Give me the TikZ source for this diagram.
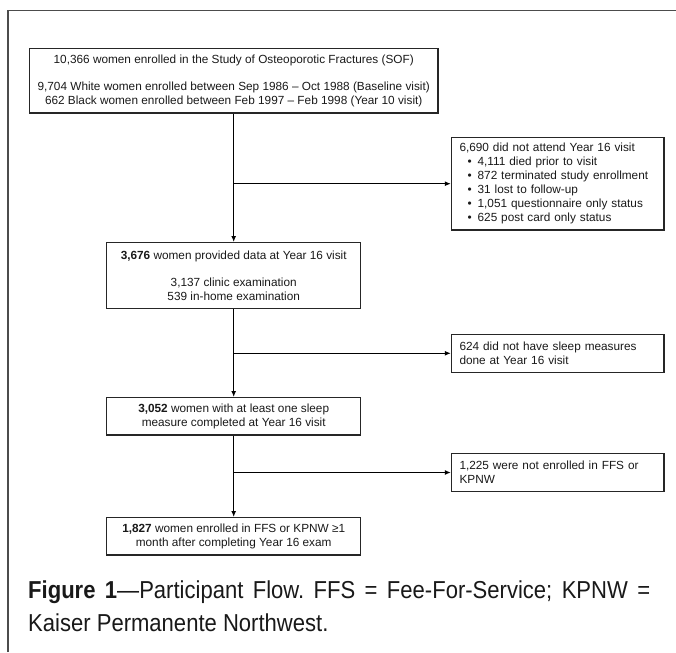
\documentclass[tikz,border=0pt]{standalone}
\usepackage{fontspec}
\setmainfont{Liberation Sans}
\newfontfamily\capfont[FakeStretch=0.9]{Liberation Sans}
\usetikzlibrary{arrows.meta}
\newcommand{\bul}{\hspace*{8pt}\textbullet\hspace{6pt}}
\frenchspacing
\begin{document}
\begin{tikzpicture}[x=1pt,y=-1pt,
  box/.style={draw=black!85, line width=1.3pt, inner sep=0pt,
    font=\fontsize{11.8}{13.8}\selectfont, align=center, text=black!90},
  sidebox/.style={draw=black!85, line width=1.3pt, inner xsep=8pt, inner ysep=0pt,
    minimum width=212.5pt, text width=196.5pt,
    font=\fontsize{11.8}{13.9}\selectfont, align=left, text=black!90},
  flow/.style={draw=black, line width=1.3pt, -{Latex[length=6pt,width=5pt]}},
  frame/.style={draw=black!70, line width=1.4pt}]
\useasboundingbox (0,0) rectangle (676,652);
\coordinate (fb) at (8,652);
\coordinate (ftl) at (8,10.7);
\coordinate (ftr) at (676,10.7);
\draw[frame] (fb) -- (ftl) -- (ftr);

\node[box, minimum width=408.7pt, minimum height=64.7pt] (b1) at (233.7,80.7)
  {10,366 women enrolled in the Study of Osteoporotic Fractures (SOF)\\[13.8pt]
   9,704 White women enrolled between Sep 1986 -- Oct 1988 (Baseline visit)\\
   662 Black women enrolled between Feb 1997 -- Feb 1998 (Year 10 visit)};

\node[box, minimum width=254pt, minimum height=65.6pt] (b2) at (233.7,275.5)
  {\textbf{3,676} women provided data at Year 16 visit\\[13.8pt]
   3,137 clinic examination\\
   539 in-home examination};

\node[box, minimum width=254pt, minimum height=37.3pt] (b3) at (233.7,416.3)
  {\textbf{3,052} women with at least one sleep\\
   measure completed at Year 16 visit};

\node[box, minimum width=254pt, minimum height=37.3pt] (b4) at (233.7,536.3)
  {\textbf{1,827} women enrolled in FFS or KPNW ≥1\\
   month after completing Year 16 exam};

\node[sidebox, minimum height=92.7pt] (r1) at (557.75,183.7)
  {6,690 did not attend Year 16 visit\\
   \bul 4,111 died prior to visit\\
   \bul 872 terminated study enrollment\\
   \bul 31 lost to follow-up\\
   \bul 1,051 questionnaire only status\\
   \bul 625 post card only status};

\node[sidebox, minimum height=38pt] (r2) at (557.75,353.3)
  {624 did not have sleep measures\\
   done at Year 16 visit};

\node[sidebox, minimum height=38pt] (r3) at (557.75,472.5)
  {1,225 were not enrolled in FFS or\\
   KPNW};

\draw[flow] (b1) -- (b2);
\draw[flow] (b2) -- (b3);
\draw[flow] (b3) -- (b4);
\coordinate (j1) at (b1.south |- r1.west);
\coordinate (j2) at (b2.south |- r2.west);
\coordinate (j3) at (b3.south |- r3.west);
\draw[flow] (j1) -- (r1.west);
\draw[flow] (j2) -- (r2.west);
\draw[flow] (j3) -- (r3.west);

\node[anchor=north west, inner sep=0pt, text width=622pt, align=justify,
  font=\capfont\fontsize{24.5}{33}\selectfont, text=black!90] (cap) at (28,580.5)
  {\textbf{Figure 1}—Participant Flow. FFS = Fee-For-Service; KPNW =\linebreak
   Kaiser Permanente Northwest.};
\end{tikzpicture}
\end{document}
